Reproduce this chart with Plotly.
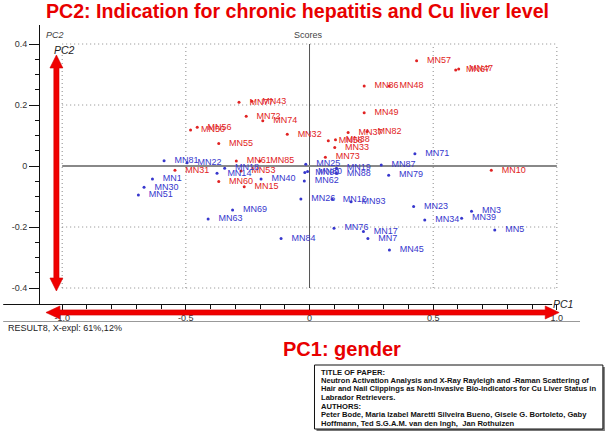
import numpy as np
import plotly.graph_objects as go

# ---------------- data ----------------
red_names = ["MN57", "MN67", "MN47", "MN86", "MN48", "MN49", "MN77", "MN43", "MN72", "MN74",
             "MN56", "MN50", "MN55", "MN32", "MN37", "MN82", "MN58", "MN38", "MN33", "MN73",
             "MN61", "MN85", "MN31", "MN53", "MN60", "MN15", "MN10"]
red_pc1 = [0.433, 0.591, 0.603, 0.221, 0.322, 0.221, -0.285, -0.233, -0.256, -0.189,
           -0.454, -0.481, -0.367, -0.090, 0.156, 0.233, 0.076, 0.105, 0.102, 0.064,
           -0.296, -0.201, -0.544, -0.277, -0.367, -0.264, 0.735]
red_pc2 = [0.345, 0.315, 0.318, 0.262, 0.262, 0.175, 0.209, 0.212, 0.163, 0.148,
           0.127, 0.118, 0.074, 0.104, 0.110, 0.113, 0.083, 0.086, 0.061, 0.029,
           0.016, 0.016, -0.014, -0.016, -0.051, -0.068, -0.014]

blue_names = ["MN81", "MN22", "MN18", "MN14", "MN1", "MN30", "MN51", "MN40", "MN25", "MN90",
              "MN80", "MN62", "MN19", "MN88", "MN87", "MN79", "MN71", "MN26", "MN12", "MN93",
              "MN69", "MN63", "MN84", "MN76", "MN17", "MN7", "MN45", "MN23", "MN34", "MN3",
              "MN39", "MN5"]
blue_pc1 = [-0.588, -0.495, -0.343, -0.374, -0.635, -0.669, -0.692, -0.196, -0.015, -0.019,
            -0.008, -0.021, 0.109, 0.109, 0.290, 0.320, 0.426, -0.035, 0.092, 0.168,
            -0.311, -0.410, -0.115, 0.099, 0.218, 0.236, 0.323, 0.421, 0.466, 0.655,
            0.615, 0.749]
blue_pc2 = [0.017, 0.011, -0.007, -0.024, -0.043, -0.070, -0.095, -0.043, 0.006, -0.021,
            -0.018, -0.049, -0.007, -0.024, 0.003, -0.030, 0.040, -0.108, -0.109, -0.117,
            -0.144, -0.174, -0.238, -0.204, -0.215, -0.238, -0.275, -0.133, -0.177, -0.148,
            -0.171, -0.210]

x_tickvals = [-1.0, -0.5, 0.0, 0.5, 1.0]
x_ticktext = ["-1.0", "-0.5", "0", "0.5", "1.0"]
y_tickvals = [-0.4, -0.2, 0.0, 0.2, 0.4]
y_ticktext = ["-0.4", "-0.2", "0", "0.2", "0.4"]

title_text = "PC2: Indication for chronic hepatitis and Cu liver level"
pc1_text = "PC1: gender"
result_text = "RESULT8, X-expl: 61%,12%"
box_lines = [
    "TITLE OF PAPER:",
    "Neutron Activation Analysis and X-Ray Rayleigh and -Raman Scattering of",
    "Hair and Nail Clippings as Non-Invasive Bio-Indicators for Cu Liver Status in",
    "Labrador Retrievers.",
    "AUTHORS:",
    "Peter Bode, Maria Izabel Maretti Silveira Bueno, Gisele G. Bortoleto, Gaby",
    "Hoffmann, Ted S.G.A.M. van den Ingh,  Jan Rothuizen",
]

# ---------------- layout geometry ----------------
W, H = 607, 434
L, R, T, B = 37, 22, 25, 130
PW, PH = W - L - R, H - T - B
FONT = "Arial, Liberation Sans, Helvetica, sans-serif"
RED = "#f00000"
RED_LBL = "rgb(225,35,35)"
BLUE_LBL = "rgb(55,55,205)"


def px(x):
    return (x - L) / PW


def py(y):
    return (H - B - y) / PH


pad = "\u00a0\u00a0\u00a0"

fig = go.Figure()
fig.add_trace(go.Scatter(
    x=red_pc1, y=red_pc2, text=[pad + n for n in red_names], mode="markers+text",
    textposition="middle right", cliponaxis=False,
    marker=dict(symbol="circle", size=3, color=RED_LBL),
    textfont=dict(family=FONT, size=9, color=RED_LBL), showlegend=False))
fig.add_trace(go.Scatter(
    x=blue_pc1, y=blue_pc2, text=[pad + n for n in blue_names], mode="markers+text",
    textposition="middle right", cliponaxis=False,
    marker=dict(symbol="circle", size=3, color=BLUE_LBL),
    textfont=dict(family=FONT, size=9, color=BLUE_LBL), showlegend=False))

shapes = []
# dotted grid
for gx in [-1.0, -0.5, 0.5, 1.0]:
    shapes.append(dict(type="line", xref="x", yref="y", x0=gx, x1=gx, y0=-0.4, y1=0.4,
                       line=dict(color="#8a8a8a", width=1, dash="1px,3px"), layer="below"))
for gy in [-0.4, -0.2, 0.2, 0.4]:
    shapes.append(dict(type="line", xref="x", yref="y", x0=-1.0, x1=1.0, y0=gy, y1=gy,
                       line=dict(color="#8a8a8a", width=1, dash="1px,3px"), layer="below"))
# zero lines
shapes.append(dict(type="line", xref="x", yref="y", x0=0, x1=0, y0=-0.4, y1=0.4,
                   line=dict(color="#555555", width=1), layer="below"))
shapes.append(dict(type="line", xref="x", yref="y", x0=-1.0, x1=1.0, y0=0, y1=0,
                   line=dict(color="#888888", width=2), layer="below"))
# bottom axis line (extends to the left edge)
shapes.append(dict(type="line", xref="paper", yref="paper", x0=px(0), x1=px(552), y0=py(304.5), y1=py(304.5),
                   line=dict(color="#111111", width=1)))
# separator line
shapes.append(dict(type="line", xref="paper", yref="paper", x0=px(0), x1=px(580), y0=py(321.5), y1=py(321.5),
                   line=dict(color="#999999", width=1)))


def harrow(x0, x1, yc, hl=14, hh=6.5, st=2.6):
    pts = [(x0, yc), (x0 + hl, yc - hh), (x0 + hl, yc - st), (x1 - hl, yc - st), (x1 - hl, yc - hh),
           (x1, yc), (x1 - hl, yc + hh), (x1 - hl, yc + st), (x0 + hl, yc + st), (x0 + hl, yc + hh)]
    return "M " + " L ".join(f"{px(a):.5f},{py(b):.5f}" for a, b in pts) + " Z"


def varrow(xc, y0, y1, hl=13, hw=6.5, st=2.6):
    pts = [(xc, y0), (xc + hw, y0 + hl), (xc + st, y0 + hl), (xc + st, y1 - hl), (xc + hw, y1 - hl),
           (xc, y1), (xc - hw, y1 - hl), (xc - st, y1 - hl), (xc - st, y0 + hl), (xc - hw, y0 + hl)]
    return "M " + " L ".join(f"{px(a):.5f},{py(b):.5f}" for a, b in pts) + " Z"


shapes.append(dict(type="path", xref="paper", yref="paper", path=harrow(43, 559, 312.5),
                   fillcolor=RED, line=dict(color="#d00000", width=0.6), layer="above"))
shapes.append(dict(type="path", xref="paper", yref="paper", path=varrow(53.5, 55, 291),
                   fillcolor=RED, line=dict(color="#d00000", width=0.6), layer="above"))
# info box with shadow
shapes.append(dict(type="rect", xref="paper", yref="paper", x0=px(315), x1=px(605), y0=py(431), y1=py(367),
                   fillcolor="#777777", line=dict(width=0)))
shapes.append(dict(type="rect", xref="paper", yref="paper", x0=px(313), x1=px(603), y0=py(429), y1=py(365),
                   fillcolor="white", line=dict(color="#111111", width=1)))

annotations = [
    dict(text=f"<b>{title_text}</b>", x=px(296), y=py(11), xref="paper", yref="paper",
         showarrow=False, xanchor="center", yanchor="middle", font=dict(family=FONT, size=19.6, color="#e80000")),
    dict(text=f"<b>{pc1_text}</b>", x=px(341), y=py(349), xref="paper", yref="paper",
         showarrow=False, xanchor="center", yanchor="middle", font=dict(family=FONT, size=20, color="#e80000")),
    dict(text=result_text, x=px(3), y=py(327.5), xref="paper", yref="paper", showarrow=False,
         xanchor="left", yanchor="middle", font=dict(family=FONT, size=9, color="#222222")),
    dict(text="<i>PC1</i>", x=px(563), y=py(303.5), xref="paper", yref="paper", showarrow=False,
         xanchor="center", yanchor="middle", font=dict(family=FONT, size=10.5, color="#222222")),
    dict(text="<i>PC2</i>", x=px(62), y=py(50), xref="paper", yref="paper", showarrow=False,
         xanchor="center", yanchor="middle", font=dict(family=FONT, size=10.5, color="#222222")),
    dict(text="<i>PC2</i>", x=px(52.5), y=py(35), xref="paper", yref="paper", showarrow=False,
         xanchor="center", yanchor="middle", font=dict(family=FONT, size=9, color="#444444")),
    dict(text="Scores", x=px(307), y=py(35), xref="paper", yref="paper", showarrow=False,
         xanchor="center", yanchor="middle", font=dict(family=FONT, size=9, color="#444444")),
]
for i, line in enumerate(box_lines):
    annotations.append(dict(text=f"<b>{line}</b>", x=px(317.5), y=py(372 + 8.5 * i), xref="paper", yref="paper",
                            showarrow=False, xanchor="left", yanchor="middle", align="left",
                            font=dict(family=FONT, size=7.6, color="#111111")))

xr = [(L - 308) / 248.7, (W - R - 308) / 248.7]
yr = [(166 - (H - B)) / 305, (166 - T) / 305]

fig.update_layout(
    width=W, height=H, margin=dict(l=L, r=R, t=T, b=B, pad=0),
    paper_bgcolor="white", plot_bgcolor="white",
    shapes=shapes, annotations=annotations, showlegend=False,
    xaxis=dict(range=xr, showgrid=False, zeroline=False, showline=False,
               tickmode="array", tickvals=x_tickvals, ticktext=x_ticktext,
               ticks="outside", ticklen=5, tickcolor="#111111",
               minor=dict(tickmode="array", tickvals=list(np.round(np.arange(-1.0, 1.01, 0.1), 2)),
                          ticks="outside", ticklen=4, tickcolor="#111111", showgrid=False),
               tickfont=dict(family=FONT, size=9, color="#333333")),
    yaxis=dict(range=yr, showgrid=False, zeroline=False, showline=True, linecolor="#111111", linewidth=1,
               tickmode="array", tickvals=y_tickvals, ticktext=y_ticktext,
               ticks="outside", ticklen=10, tickcolor="#111111",
               minor=dict(tickmode="array", tickvals=list(np.round(np.arange(-0.4, 0.401, 0.05), 3)),
                          ticks="outside", ticklen=4, tickcolor="#111111", showgrid=False),
               tickfont=dict(family=FONT, size=9, color="#333333")),
)

fig.write_html("out.html", config={"displayModeBar": False},
               post_script="document.body.style.margin='0';document.body.style.overflow='hidden';")
